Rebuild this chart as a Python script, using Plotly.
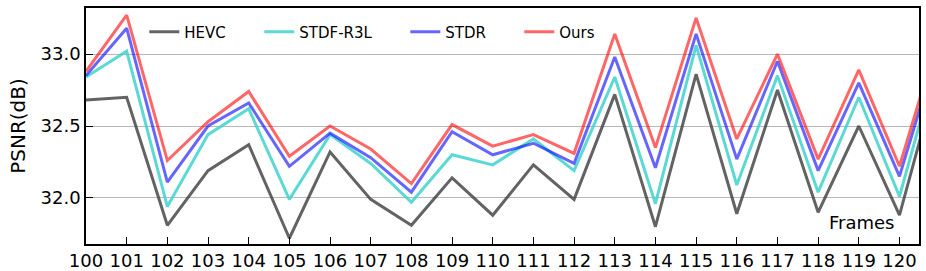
import plotly.graph_objects as go

frames = list(range(100, 122))
hevc = [32.68, 32.70, 31.81, 32.19, 32.37, 31.72, 32.32, 31.99, 31.81, 32.14, 31.88,
        32.23, 31.99, 32.72, 31.80, 32.86, 31.89, 32.75, 31.90, 32.50, 31.88, 32.92]
stdf = [32.84, 33.02, 31.94, 32.44, 32.62, 31.99, 32.44, 32.24, 31.97, 32.30, 32.23,
        32.41, 32.19, 32.84, 31.96, 33.06, 32.09, 32.85, 32.04, 32.70, 32.01, 33.03]
stdr = [32.85, 33.18, 32.11, 32.50, 32.66, 32.22, 32.45, 32.28, 32.04, 32.46, 32.30,
        32.38, 32.24, 32.98, 32.21, 33.14, 32.27, 32.95, 32.19, 32.80, 32.15, 33.09]
ours = [32.88, 33.27, 32.26, 32.53, 32.74, 32.29, 32.50, 32.34, 32.10, 32.51, 32.36,
        32.44, 32.31, 33.14, 32.35, 33.25, 32.41, 33.00, 32.27, 32.89, 32.22, 33.16]

series = [
    ("HEVC", hevc, "rgba(60,60,60,0.8)", 70),
    ("STDF-R3L", stdf, "rgba(64,210,204,0.85)", 101),
    ("STDR", stdr, "rgba(0,0,255,0.6)", 69),
    ("Ours", ours, "rgba(255,0,0,0.6)", 40),
]

fig = go.Figure()
for name, vals, col, lw in series:
    fig.add_trace(go.Scatter(x=frames, y=vals, mode="lines", name=name,
                             line=dict(color=col, width=3), legendwidth=lw))

fig.update_layout(
    width=926, height=271,
    margin=dict(l=86, r=7, t=8, b=27, autoexpand=False),
    plot_bgcolor="white", paper_bgcolor="white",
    font=dict(family="DejaVu Sans", color="black"),
    showlegend=True,
    legend=dict(orientation="h", x=0.07, y=0.898, xanchor="left", yanchor="middle",
                font=dict(size=15), bgcolor="rgba(0,0,0,0)", tracegroupgap=0),
    annotations=[dict(x=119.07, y=31.83, xref="x", yref="y", text="Frames",
                      showarrow=False, font=dict(size=18, family="DejaVu Sans"))],
)
fig.update_xaxes(range=[100, 120.48], tickmode="array", tickvals=list(range(100, 121)),
                 ticks="inside", ticklen=7, tickwidth=1.3, tickcolor="black",
                 showline=True, linecolor="black", linewidth=1.5, mirror=True,
                 showgrid=False, zeroline=False, tickfont=dict(size=18), automargin=False)
fig.update_yaxes(range=[31.68, 33.32], tickvals=[32.0, 32.5, 33.0], ticktext=["32.0", "32.5", "33.0"],
                 ticks="inside", ticklen=7, tickwidth=1.3, tickcolor="black",
                 showline=True, linecolor="black", linewidth=1.5, mirror=True,
                 showgrid=True, gridcolor="#b8b8b8", gridwidth=1, zeroline=False, automargin=False,
                 tickfont=dict(size=18), title=dict(text="PSNR(dB)", font=dict(size=20), standoff=10))

fig.write_html("out.html", config={"displayModeBar": False},
               post_script="document.body.style.margin='0';document.body.style.overflow='hidden';")
